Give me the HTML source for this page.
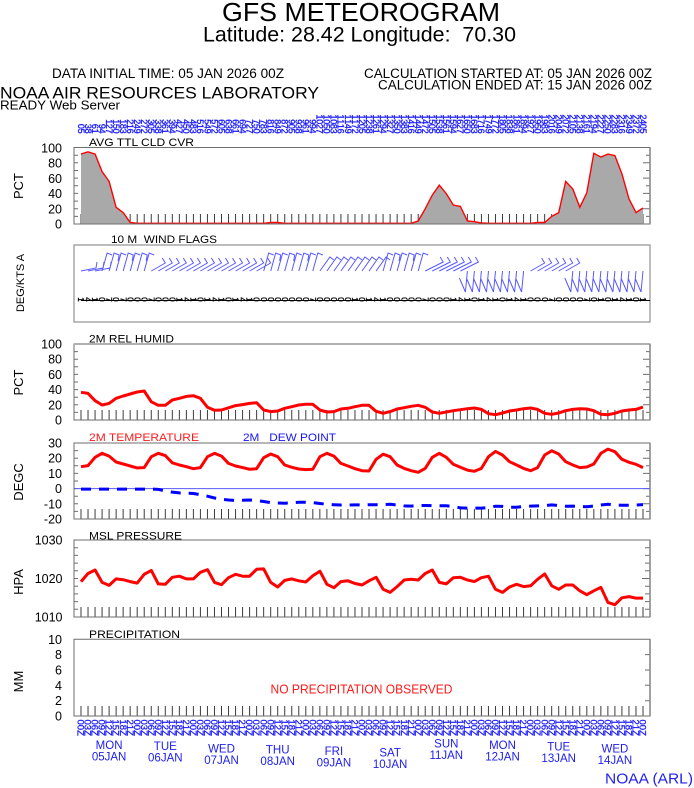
<!DOCTYPE html>
<html><head><meta charset="utf-8"><style>html,body{margin:0;padding:0;background:#fff}svg{display:block}</style></head>
<body>
<svg xmlns="http://www.w3.org/2000/svg" width="694" height="788" viewBox="0 0 694 788" font-family="'Liberation Sans', Arial, sans-serif">
<rect width="694" height="788" fill="#fff"/>
<defs>
<path id="tk" d="M81 0v-10M88.025 0v-10M95.05 0v-10M102.075 0v-10M109.1 0v-10M116.125 0v-10M123.15 0v-10M130.175 0v-10M137.2 0v-10M144.225 0v-10M151.25 0v-10M158.275 0v-10M165.3 0v-10M172.325 0v-10M179.35 0v-10M186.375 0v-10M193.4 0v-10M200.425 0v-10M207.45 0v-10M214.475 0v-10M221.5 0v-10M228.525 0v-10M235.55 0v-10M242.575 0v-10M249.6 0v-10M256.625 0v-10M263.65 0v-10M270.675 0v-10M277.7 0v-10M284.725 0v-10M291.75 0v-10M298.775 0v-10M305.8 0v-10M312.825 0v-10M319.85 0v-10M326.875 0v-10M333.9 0v-10M340.925 0v-10M347.95 0v-10M354.975 0v-10M362 0v-10M369.025 0v-10M376.05 0v-10M383.075 0v-10M390.1 0v-10M397.125 0v-10M404.15 0v-10M411.175 0v-10M418.2 0v-10M425.225 0v-10M432.25 0v-10M439.275 0v-10M446.3 0v-10M453.325 0v-10M460.35 0v-10M467.375 0v-10M474.4 0v-10M481.425 0v-10M488.45 0v-10M495.475 0v-10M502.5 0v-10M509.525 0v-10M516.55 0v-10M523.575 0v-10M530.6 0v-10M537.625 0v-10M544.65 0v-10M551.675 0v-10M558.7 0v-10M565.725 0v-10M572.75 0v-10M579.775 0v-10M586.8 0v-10M593.825 0v-10M600.85 0v-10M607.875 0v-10M614.9 0v-10M621.925 0v-10M628.95 0v-10M635.975 0v-10M643 0v-10" stroke="#3c3c3c" stroke-width="1" fill="none"/>
</defs>

<!-- Header -->
<text x="361" y="21" font-size="26" text-anchor="middle" textLength="278" lengthAdjust="spacingAndGlyphs">GFS METEOROGRAM</text>
<text x="359.5" y="41.5" font-size="21" text-anchor="middle" textLength="313" lengthAdjust="spacingAndGlyphs">Latitude: 28.42 Longitude: &#160;70.30</text>
<text x="52" y="78" font-size="13.5" textLength="232" lengthAdjust="spacingAndGlyphs">DATA INITIAL TIME: 05 JAN 2026 00Z</text>
<text x="364" y="78" font-size="13.5" textLength="288" lengthAdjust="spacingAndGlyphs">CALCULATION STARTED AT: 05 JAN 2026 00Z</text>
<text x="378" y="89.5" font-size="13.5" textLength="274" lengthAdjust="spacingAndGlyphs">CALCULATION ENDED AT: 15 JAN 2026 00Z</text>
<text x="0" y="98.5" font-size="17" textLength="319" lengthAdjust="spacingAndGlyphs">NOAA AIR RESOURCES LABORATORY</text>
<text x="0" y="109.5" font-size="13" textLength="120" lengthAdjust="spacingAndGlyphs">READY Web Server</text>

<!-- top forecast-hour labels -->
<g font-size="9" fill="#1c1cff" stroke="#1c1cff" stroke-width="0.35" transform="translate(-0.35,0)">
<text y="114.5" rotate="90" x="78.1 85.1 92.2 99.2 106.2 113.2 120.3 127.3 134.3 141.3 148.4 155.4 162.4 169.4 176.5 183.5 190.5 197.5 204.6 211.6 218.6 225.6 232.7 239.7 246.7 253.7 260.8 267.8 274.8 281.8 288.9 295.9 302.9 309.9 317 324 331 338 345.1 352.1 359.1 366.1 373.2 380.2 387.2 394.2 401.3 408.3 415.3 422.3 429.4 436.4 443.4 450.4 457.5 464.5 471.5 478.5 485.6 492.6 499.6 506.6 513.7 520.7 527.7 534.7 541.8 548.8 555.8 562.8 569.9 576.9 583.9 590.9 598 605 612 619 626.1 633.1 640.1">&#160;&#160;&#160;&#160;&#160;&#160;&#160;&#160;&#160;&#160;&#160;&#160;&#160;&#160;&#160;&#160;&#160;&#160;&#160;&#160;&#160;&#160;&#160;&#160;&#160;&#160;&#160;&#160;&#160;&#160;&#160;&#160;&#160;&#160;11111111111111111111111111111111122222222222222</text>
<text y="119.2" rotate="90" x="78.1 85.1 92.2 99.2 106.2 113.2 120.3 127.3 134.3 141.3 148.4 155.4 162.4 169.4 176.5 183.5 190.5 197.5 204.6 211.6 218.6 225.6 232.7 239.7 246.7 253.7 260.8 267.8 274.8 281.8 288.9 295.9 302.9 309.9 317 324 331 338 345.1 352.1 359.1 366.1 373.2 380.2 387.2 394.2 401.3 408.3 415.3 422.3 429.4 436.4 443.4 450.4 457.5 464.5 471.5 478.5 485.6 492.6 499.6 506.6 513.7 520.7 527.7 534.7 541.8 548.8 555.8 562.8 569.9 576.9 583.9 590.9 598 605 612 619 626.1 633.1 640.1">&#160;&#160;&#160;&#160;11122233334445556666777888999900011122223334445555666777888899900011112223334</text>
<text y="123.9" rotate="90" x="78.1 85.1 92.2 99.2 106.2 113.2 120.3 127.3 134.3 141.3 148.4 155.4 162.4 169.4 176.5 183.5 190.5 197.5 204.6 211.6 218.6 225.6 232.7 239.7 246.7 253.7 260.8 267.8 274.8 281.8 288.9 295.9 302.9 309.9 317 324 331 338 345.1 352.1 359.1 366.1 373.2 380.2 387.2 394.2 401.3 408.3 415.3 422.3 429.4 436.4 443.4 450.4 457.5 464.5 471.5 478.5 485.6 492.6 499.6 506.6 513.7 520.7 527.7 534.7 541.8 548.8 555.8 562.8 569.9 576.9 583.9 590.9 598 605 612 619 626.1 633.1 640.1">036925814703692581470369258147036925814703692581470369258147036925814703692581470</text>
<text y="128.6" rotate="90" x="78.1 85.1 92.2 99.2 106.2 113.2 120.3 127.3 134.3 141.3 148.4 155.4 162.4 169.4 176.5 183.5 190.5 197.5 204.6 211.6 218.6 225.6 232.7 239.7 246.7 253.7 260.8 267.8 274.8 281.8 288.9 295.9 302.9 309.9 317 324 331 338 345.1 352.1 359.1 366.1 373.2 380.2 387.2 394.2 401.3 408.3 415.3 422.3 429.4 436.4 443.4 450.4 457.5 464.5 471.5 478.5 485.6 492.6 499.6 506.6 513.7 520.7 527.7 534.7 541.8 548.8 555.8 562.8 569.9 576.9 583.9 590.9 598 605 612 619 626.1 633.1 640.1">581470369258147036925814703692581470369258147036925814703692581470369258147036925</text>
</g>

<!-- Y-axis titles -->
<g font-size="13" text-anchor="middle">
<text transform="translate(23,186) rotate(-90)">PCT</text>
<text transform="translate(24,283) rotate(-90)" font-size="11">DEG/KTS A</text>
<text transform="translate(23,382.5) rotate(-90)">PCT</text>
<text transform="translate(23,482) rotate(-90)">DEGC</text>
<text transform="translate(23,582) rotate(-90)">HPA</text>
<text transform="translate(23,681.5) rotate(-90)">MM</text>
</g>

<!-- Y tick labels -->
<g font-size="12.5" text-anchor="end">
<text x="62" y="152.5">100</text><text x="62" y="167.7">80</text><text x="62" y="182.9">60</text><text x="62" y="198.1">40</text><text x="62" y="213.3">20</text><text x="62" y="228.5">0</text>
<text x="62" y="348.5">100</text><text x="62" y="363.7">80</text><text x="62" y="378.9">60</text><text x="62" y="394.1">40</text><text x="62" y="409.3">20</text><text x="62" y="424.5">0</text>
<text x="62" y="447.5">30</text><text x="62" y="462.7">20</text><text x="62" y="477.9">10</text><text x="62" y="493.1">0</text><text x="62" y="508.3">-10</text><text x="62" y="523.5">-20</text>
<text x="62.5" y="544.5">1030</text><text x="62.5" y="583">1020</text><text x="62.5" y="621.5">1010</text>
<text x="62" y="643.8">10</text><text x="62" y="659.1">8</text><text x="62" y="674.5">6</text><text x="62" y="689.8">4</text><text x="62" y="705.1">2</text><text x="62" y="720.5">0</text>
</g>

<!-- Panel titles -->
<g font-size="11">
<text x="89" y="146" textLength="105" lengthAdjust="spacingAndGlyphs">AVG TTL CLD CVR</text>
<text x="111" y="243" textLength="106" lengthAdjust="spacingAndGlyphs">10 M&#160; WIND FLAGS</text>
<text x="89" y="342.5" textLength="85" lengthAdjust="spacingAndGlyphs">2M REL HUMID</text>
<text x="89" y="441" fill="#ff1a1a" textLength="110" lengthAdjust="spacingAndGlyphs">2M TEMPERATURE</text>
<text x="243" y="441" fill="#1414ff" textLength="93" lengthAdjust="spacingAndGlyphs">2M &#160; DEW POINT</text>
<text x="89" y="539.5" textLength="93" lengthAdjust="spacingAndGlyphs">MSL PRESSURE</text>
<text x="89" y="638" textLength="91" lengthAdjust="spacingAndGlyphs">PRECIPITATION</text>
</g>

<!-- bottom ticks -->
<use href="#tk" y="224"/>
<use href="#tk" y="420"/>
<use href="#tk" y="519"/>
<use href="#tk" y="617"/>
<use href="#tk" y="716"/>

<!-- Cloud cover -->
<path d="M81 224L81 154.1L88 151.8L95.1 154.1L102.1 171.6L109.1 181.4L116.1 207.3L123.2 212.6L130.2 222.5L137.2 223.3L263.7 223.3L270.7 222.5L277.7 222.5L284.7 223.3L411.2 223.3L418.2 221L425.2 208.8L432.3 195.1L439.3 185.2L446.3 193.6L453.3 205L460.4 206.5L467.4 221L474.4 221.7L481.4 223L488.5 223.3L530.6 223.3L537.6 222.5L544.7 222.5L551.7 216.4L558.7 212.6L565.7 181.4L572.8 189L579.8 207.3L586.8 192.8L593.8 153.3L600.9 157.1L607.9 154.1L614.9 155.6L621.9 173.8L629 198.9L636 212.6L643 208L643 224Z" fill="#a9a9a9"/>
<path d="M81 154.1L88 151.8L95.1 154.1L102.1 171.6L109.1 181.4L116.1 207.3L123.2 212.6L130.2 222.5L137.2 223.3L263.7 223.3L270.7 222.5L277.7 222.5L284.7 223.3L411.2 223.3L418.2 221L425.2 208.8L432.3 195.1L439.3 185.2L446.3 193.6L453.3 205L460.4 206.5L467.4 221L474.4 221.7L481.4 223L488.5 223.3L530.6 223.3L537.6 222.5L544.7 222.5L551.7 216.4L558.7 212.6L565.7 181.4L572.8 189L579.8 207.3L586.8 192.8L593.8 153.3L600.9 157.1L607.9 154.1L614.9 155.6L621.9 173.8L629 198.9L636 212.6L643 208" fill="none" stroke="#ff0000" stroke-width="1.4"/>

<!-- Frames and axis ticks -->
<g fill="none" stroke="#6e6e6e" stroke-width="1">
<path d="M74 147.5H650V224H74Z"/>
<path d="M74 155.2h4M74 162.8h4M74 170.5h4M74 178.1h4M74 185.8h4M74 193.4h4M74 201.1h4M74 208.7h4M74 216.4h4"/>
<path d="M650 155.2h-4M650 162.8h-7M650 170.5h-4M650 178.1h-7M650 185.8h-4M650 193.4h-7M650 201.1h-4M650 208.7h-7M650 216.4h-4"/>
<path d="M74 344H650V420H74Z"/>
<path d="M74 351.6h4M74 359.2h4M74 366.8h4M74 374.4h4M74 382h4M74 389.6h4M74 397.2h4M74 404.8h4M74 412.4h4"/>
<path d="M650 351.6h-4M650 359.2h-7M650 366.8h-4M650 374.4h-7M650 382h-4M650 389.6h-7M650 397.2h-4M650 404.8h-7M650 412.4h-4"/>
<path d="M74 443H650V519H74Z"/>
<path d="M74 450.6h4M74 458.2h4M74 465.8h4M74 473.4h4M74 481h4M74 488.6h4M74 496.2h4M74 503.8h4M74 511.4h4"/>
<path d="M650 450.6h-4M650 458.2h-7M650 465.8h-4M650 473.4h-7M650 481h-4M650 488.6h-7M650 496.2h-4M650 503.8h-7M650 511.4h-4"/>
<path d="M74 540H650V617H74Z"/>
<path d="M74 547.7h4M74 555.4h4M74 563.1h4M74 570.8h4M74 578.5h4M74 586.2h4M74 593.9h4M74 601.6h4M74 609.3h4"/>
<path d="M650 547.7h-5M650 555.4h-5M650 563.1h-5M650 570.8h-5M650 578.5h-8M650 586.2h-5M650 593.9h-5M650 601.6h-5M650 609.3h-5"/>
<path d="M74 639.3H650V716H74Z"/>
<path d="M650 654.6h-5M650 670h-5M650 685.3h-5M650 700.7h-5"/>
</g>
<path d="M74 344H650" stroke="#b0b0b0" stroke-width="2"/>
<path d="M650 147.5V224M650 344V420M650 443V519M650 540V617M650 639.3V716" stroke="#8a8a8a" stroke-width="1.6"/>
<rect x="74" y="245" width="576" height="77" fill="none" stroke="#999" stroke-width="1.3"/>

<!-- Wind barbs -->
<path fill="none" stroke="#5858ff" stroke-width="1" d="M81 271l15-3l1-6M88 271l15-3l1-6M95.1 271l15-3l1-6M102.1 271l5-18l5 2M109.1 271l5-18l5 2l-1 6M116.1 271l5-18l5 2M123.2 271l5-18l5 2l-1 6M130.2 271l5-18l5 2M137.2 271l5-18l5 2l-1 6M144.2 271l5-18l5 2M151.3 271l14-8l-3-5M158.3 271l14-8l-3-5M165.3 271l14-8l-3-5M172.3 271l14-8l-3-5M179.4 271l14-8l-3-5M186.4 271l14-8l-3-5M193.4 271l14-8l-3-5M200.4 271l14-8l-3-5M207.5 271l14-8l-3-5M214.5 271l14-8l-3-5M221.5 271l14-8l-3-5M228.5 271l14-8l-3-5M235.6 271l14-8l-3-5M242.6 271l14-8l-3-5M249.6 271l14-8l-3-5M256.6 271l14-8l-3-5M263.7 271l5-18l5 2M270.7 271l5-18l5 2l-1 6M277.7 271l5-18l5 2M284.7 271l5-18l5 2l-1 6M291.8 271l5-18l5 2M298.8 271l5-18l5 2l-1 6M305.8 271l5-18l5 2M312.8 271l5-18l5 2M319.9 271l10-14l4 3M326.9 271l10-14l4 3M333.9 271l10-14l4 3M340.9 271l10-14l4 3M348 271l10-14l4 3M355 271l10-14l4 3M362 271l10-14l4 3M369 271l10-14l4 3M376.1 271l10-14l4 3M383.1 271l5-18l5 2M390.1 271l5-18l5 2l-1 6M397.1 271l5-18l5 2M404.2 271l5-18l5 2l-1 6M411.2 271l5-18l5 2M418.2 271l5-18l5 2M425.2 271l18-9l-3-5M432.3 271l18-9l-3-5M439.3 271l18-9l-3-5M446.3 271l18-9l-3-5M453.3 271l18-9l-3-5M460.4 271l18-9l-3-5M467.4 271l-2 21l-6-14M474.4 271l-2 21l-6-14M481.4 271l-2 21l-6-14M488.5 271l-2 21l-6-14M495.5 271l-2 21l-6-14M502.5 271l-2 21l-6-14M509.5 271l-2 21l-6-14M516.6 271l-2 21l-6-14M523.6 271l-2 21l-6-14M530.6 271l14-8l-3-5M537.6 271l14-8l-3-5M544.7 271l14-8l-3-5M551.7 271l14-8l-3-5M558.7 271l14-8l-3-5M565.7 271l14-8l-3-5M572.8 271l-2 21l-6-14M579.8 271l-2 21l-6-14M586.8 271l-2 21l-6-14M593.8 271l-2 21l-6-14M600.9 271l-2 21l-6-14M607.9 271l-2 21l-6-14M614.9 271l-2 21l-6-14M621.9 271l-2 21l-6-14M629 271l-2 21l-6-14M636 271l-2 21l-6-14M643 271l-2 21l-6-14"/>
<path d="M81 300.5H650" stroke="#000" stroke-width="0.9"/>
<g font-size="8" fill="#000" stroke="#000" stroke-width="0.3">
<text y="297.2" rotate="90" x="78.1 85.1 92.2 99.2 106.2 113.2 120.3 127.3 134.3 141.3 148.4 155.4 162.4 169.4 176.5 183.5 190.5 197.5 204.6 211.6 218.6 225.6 232.7 239.7 246.7 253.7 260.8 267.8 274.8 281.8 288.9 295.9 302.9 309.9 317 324 331 338 345.1 352.1 359.1 366.1 373.2 380.2 387.2 394.2 401.3 408.3 415.3 422.3 429.4 436.4 443.4 450.4 457.5 464.5 471.5 478.5 485.6 492.6 499.6 506.6 513.7 520.7 527.7 534.7 541.8 548.8 555.8 562.8 569.9 576.9 583.9 590.9 598 605 612 619 626.1 633.1 640.1">141070700070001410141014100000000700000101410000070001410141014100070000701014101</text>
</g>

<!-- RH -->
<path fill="none" stroke="#ff0000" stroke-width="3" stroke-linejoin="round" d="M81 392.3L88 393.4L95.1 400.7L102.1 405L109.1 403.4L116.1 398.3L123.2 396L130.2 394L137.2 392L144.2 391L151.3 401.8L158.3 405.3L165.3 405.3L172.3 400L179.4 398.3L186.4 396.4L193.4 395.7L200.4 398.3L207.5 407.3L214.5 410.3L221.5 410L228.5 407.8L235.6 405.6L242.6 404.6L249.6 403.4L256.6 402.7L263.7 410L270.7 411.6L277.7 411L284.7 408.3L291.8 406.7L298.8 405L305.8 404.3L312.8 404.3L319.9 410L326.9 412L333.9 411.6L340.9 409L348 408.3L355 406.7L362 405.3L369 405.3L376.1 411.3L383.1 413.3L390.1 411.6L397.1 409L404.2 407.7L411.2 406.3L418.2 405.3L425.2 407.3L432.3 412L439.3 413.3L446.3 412L453.3 410.7L460.4 409.7L467.4 408.7L474.4 408L481.4 409.4L488.5 413.7L495.5 414.7L502.5 413L509.5 411L516.6 410L523.6 408.7L530.6 408L537.6 409.4L544.7 413.3L551.7 414.3L558.7 413L565.7 410.7L572.8 409.4L579.8 408.7L586.8 409L593.8 410.7L600.9 414.3L607.9 414.7L614.9 413.3L621.9 411L629 410L636 409.4L643 407"/>

<!-- Temperature / dew point -->
<path d="M74 488.6H650" stroke="#5a5aff" stroke-width="1"/>
<path fill="none" stroke="#ff0000" stroke-width="3" stroke-linejoin="round" d="M81 466.7L88 465.6L95.1 457.3L102.1 453.3L109.1 456.1L116.1 462L123.2 464L130.2 466L137.2 467.9L144.2 467.6L151.3 456.7L158.3 453.3L165.3 455.6L172.3 462.8L179.4 465L186.4 466.7L193.4 468.7L200.4 467.6L207.5 456.7L214.5 453.3L221.5 456.1L228.5 463.4L235.6 466L242.6 467.6L249.6 469.3L256.6 468.7L263.7 457.7L270.7 454L277.7 456.7L284.7 465L291.8 467.3L298.8 469L305.8 469.6L312.8 469.3L319.9 456.7L326.9 453.3L333.9 456.1L340.9 463.4L348 466L355 468.7L362 470.7L369 471L376.1 459.3L383.1 454.2L390.1 456.7L397.1 465L404.2 468.4L411.2 470.7L418.2 472.3L425.2 468.4L432.3 457.3L439.3 453.3L446.3 457.3L453.3 464.3L460.4 467.3L467.4 470.1L474.4 471.3L481.4 468.4L488.5 456.7L495.5 451.4L502.5 455L509.5 461.7L516.6 465L523.6 468.4L530.6 470.7L537.6 467.6L544.7 455L551.7 450.8L558.7 454L565.7 461.7L572.8 465L579.8 467.6L586.8 467L593.8 464L600.9 453.3L607.9 449.1L614.9 451.7L621.9 459.3L629 462.3L636 464.3L643 467.6"/>
<path fill="none" stroke="#0000ff" stroke-width="3" stroke-dasharray="10 8" d="M81 489.1L151.3 489.1L158.3 489.4L165.3 490.9L172.3 492.1L179.4 492.9L186.4 493.2L193.4 493.5L200.4 494.7L207.5 496.2L214.5 498L221.5 499.2L228.5 500L235.6 500.5L242.6 500.2L249.6 500L256.6 500.5L263.7 501.5L270.7 502.6L277.7 503L284.7 503.2L291.8 502.7L298.8 502.3L305.8 502.3L312.8 502.6L319.9 503.5L326.9 504.3L333.9 504.7L340.9 505L348 505L355 504.9L362 504.9L369 504.7L376.1 504.7L383.1 504.6L390.1 504.3L397.1 505L404.2 505.9L411.2 506.1L418.2 505.6L425.2 505.5L432.3 505.6L439.3 505.8L446.3 505.8L453.3 506.5L460.4 507.9L467.4 508.1L474.4 508.2L481.4 508.1L488.5 507.8L495.5 506.2L502.5 506.4L509.5 507.3L516.6 507.3L523.6 506.5L530.6 506.1L537.6 505.9L544.7 505.6L551.7 504.9L558.7 505.5L565.7 506.2L572.8 506.1L579.8 506.5L586.8 506.7L593.8 506.1L600.9 505L607.9 504.3L614.9 504.9L621.9 505.2L629 505.3L636 505L643 504.6"/>

<!-- Pressure -->
<path fill="none" stroke="#ff0000" stroke-width="3" stroke-linejoin="round" d="M81 581.6L88 573.5L95.1 570L102.1 582.4L109.1 585.4L116.1 578.9L123.2 579.7L130.2 581.6L137.2 583.1L144.2 574.3L151.3 570.4L158.3 583.9L165.3 584.3L172.3 577.3L179.4 576.2L186.4 578.9L193.4 578.9L200.4 572.3L207.5 569.6L214.5 582.4L221.5 584.7L228.5 577.7L235.6 574.3L242.6 576.2L249.6 576.2L256.6 569.3L263.7 568.9L270.7 582.4L277.7 587L284.7 580.4L291.8 578.9L298.8 580.8L305.8 582L312.8 575.8L319.9 571.2L326.9 584.3L333.9 587.7L340.9 581.6L348 580.8L355 583.5L362 585L369 580.8L376.1 577.3L383.1 589.3L390.1 592.4L397.1 586.6L404.2 580L411.2 579.3L418.2 580L425.2 573.5L432.3 570L439.3 582.4L446.3 583.9L453.3 577.7L460.4 577.3L467.4 580L474.4 581.6L481.4 577.7L488.5 576.2L495.5 589.3L502.5 592.4L509.5 587L516.6 584.3L523.6 586.6L530.6 585.8L537.6 579.3L544.7 573.9L551.7 585.8L558.7 589.3L565.7 585L572.8 585L579.8 590.8L586.8 594.7L593.8 590.8L600.9 587.4L607.9 602.4L614.9 604.7L621.9 597.8L629 596.6L636 598.1L643 598.1"/>

<!-- Precip -->
<text x="270.5" y="693.3" font-size="12.5" fill="#ff1a1a" textLength="182" lengthAdjust="spacingAndGlyphs">NO PRECIPITATION OBSERVED</text>

<!-- bottom UTC hour labels -->
<g font-size="9.5" fill="#1c1cff" stroke="#1c1cff" stroke-width="0.3" transform="translate(-0.55,0)">
<text y="719.5" rotate="90" x="78.1 85.1 92.2 99.2 106.2 113.2 120.3 127.3 134.3 141.3 148.4 155.4 162.4 169.4 176.5 183.5 190.5 197.5 204.6 211.6 218.6 225.6 232.7 239.7 246.7 253.7 260.8 267.8 274.8 281.8 288.9 295.9 302.9 309.9 317 324 331 338 345.1 352.1 359.1 366.1 373.2 380.2 387.2 394.2 401.3 408.3 415.3 422.3 429.4 436.4 443.4 450.4 457.5 464.5 471.5 478.5 485.6 492.6 499.6 506.6 513.7 520.7 527.7 534.7 541.8 548.8 555.8 562.8 569.9 576.9 583.9 590.9 598 605 612 619 626.1 633.1 640.1">000011120000111200001112000011120000111200001112000011120000111200001112000011120</text>
<text y="724.8" rotate="90" x="78.1 85.1 92.2 99.2 106.2 113.2 120.3 127.3 134.3 141.3 148.4 155.4 162.4 169.4 176.5 183.5 190.5 197.5 204.6 211.6 218.6 225.6 232.7 239.7 246.7 253.7 260.8 267.8 274.8 281.8 288.9 295.9 302.9 309.9 317 324 331 338 345.1 352.1 359.1 366.1 373.2 380.2 387.2 394.2 401.3 408.3 415.3 422.3 429.4 436.4 443.4 450.4 457.5 464.5 471.5 478.5 485.6 492.6 499.6 506.6 513.7 520.7 527.7 534.7 541.8 548.8 555.8 562.8 569.9 576.9 583.9 590.9 598 605 612 619 626.1 633.1 640.1">036925810369258103692581036925810369258103692581036925810369258103692581036925810</text>
<text y="730.1" rotate="90" x="78.1 85.1 92.2 99.2 106.2 113.2 120.3 127.3 134.3 141.3 148.4 155.4 162.4 169.4 176.5 183.5 190.5 197.5 204.6 211.6 218.6 225.6 232.7 239.7 246.7 253.7 260.8 267.8 274.8 281.8 288.9 295.9 302.9 309.9 317 324 331 338 345.1 352.1 359.1 366.1 373.2 380.2 387.2 394.2 401.3 408.3 415.3 422.3 429.4 436.4 443.4 450.4 457.5 464.5 471.5 478.5 485.6 492.6 499.6 506.6 513.7 520.7 527.7 534.7 541.8 548.8 555.8 562.8 569.9 576.9 583.9 590.9 598 605 612 619 626.1 633.1 640.1">ZZZZZZZZZZZZZZZZZZZZZZZZZZZZZZZZZZZZZZZZZZZZZZZZZZZZZZZZZZZZZZZZZZZZZZZZZZZZZZZZZ</text>
</g>

<!-- day labels -->
<g font-size="11.5" fill="#2020f0" text-anchor="middle">
<text x="109.1" y="749">MON</text><text x="109.1" y="760.5">05JAN</text>
<text x="165.3" y="750">TUE</text><text x="165.3" y="761.5">06JAN</text>
<text x="221.5" y="752.3">WED</text><text x="221.5" y="763.8">07JAN</text>
<text x="277.7" y="753.3">THU</text><text x="277.7" y="764.8">08JAN</text>
<text x="333.9" y="755">FRI</text><text x="333.9" y="766.5">09JAN</text>
<text x="390.1" y="756.6">SAT</text><text x="390.1" y="768">10JAN</text>
<text x="446.3" y="747.6">SUN</text><text x="446.3" y="759">11JAN</text>
<text x="502.5" y="749">MON</text><text x="502.5" y="760.5">12JAN</text>
<text x="558.7" y="750.3">TUE</text><text x="558.7" y="761.8">13JAN</text>
<text x="614.9" y="752.6">WED</text><text x="614.9" y="764">14JAN</text>
</g>
<text x="605" y="783.5" font-size="15" fill="#2020f0" textLength="88" lengthAdjust="spacingAndGlyphs">NOAA (ARL)</text>
</svg>
</body></html>
